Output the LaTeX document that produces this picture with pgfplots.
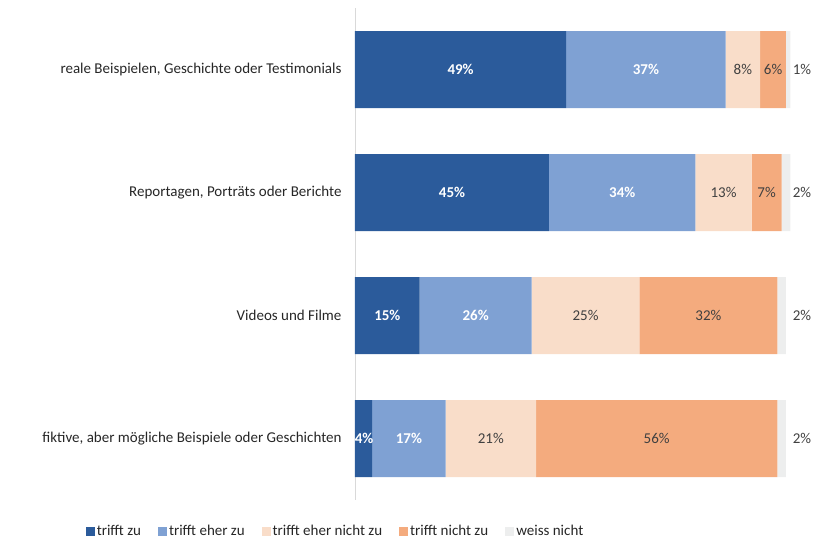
\documentclass[border=0pt]{standalone}
\usepackage{pgfplots}
\pgfplotsset{compat=1.18}
\usepackage{fontspec}
\setmainfont{Carlito}
\definecolor{c1}{HTML}{2B5B9B}
\definecolor{c2}{HTML}{7FA1D3}
\definecolor{c3}{HTML}{F9DDC9}
\definecolor{c4}{HTML}{F4AB7E}
\definecolor{c5}{HTML}{EDEEEE}
\definecolor{txt}{HTML}{404040}
\definecolor{lab}{HTML}{262626}
\newcommand\fs{\fontsize{15}{17}\selectfont}
\tikzset{wl/.style={text=white, font=\fs\bfseries}, dl/.style={text=txt, font=\fs}}
\begin{document}
\begin{tikzpicture}
\begin{axis}[
  clip=false,
  scale only axis, width=431pt, height=492pt,
  xbar stacked, bar width=77pt,
  xmin=0, xmax=100, ymin=-0.5, ymax=3.5, y dir=reverse,
  axis x line=none, axis y line*=left,
  y axis line style={draw=black!15, line width=0.8pt},
  ytick={0,1,2,3}, major tick length=0pt,
  yticklabels={reale Beispielen\hbox{,} Geschichte oder Testimonials, {Reportagen, Porträts oder Berichte}, Videos und Filme, {fiktive, aber mögliche Beispiele oder Geschichten}},
  yticklabel style={font=\fs, text=lab, anchor=east, xshift=-10pt},
  legend columns=5,
  legend style={draw=none, fill=none, at={(axis description cs:-0.632,-0.063)}, anchor=west, font=\fs, text=lab,
    /tikz/every even column/.append style={column sep=15pt}},
  legend image code/.code={\fill[#1] (0pt,-4.5pt) rectangle (9pt,4.5pt);},
  every axis plot/.append style={draw=none},
]
\addplot[fill=c1] coordinates {(49,0) (45,1) (15,2) (4,3)};
\addlegendentry{trifft zu}
\addplot[fill=c2] coordinates {(37,0) (34,1) (26,2) (17,3)};
\addlegendentry{trifft eher zu}
\addplot[fill=c3] coordinates {(8,0) (13,1) (25,2) (21,3)};
\addlegendentry{trifft eher nicht zu}
\addplot[fill=c4] coordinates {(6,0) (7,1) (32,2) (56,3)};
\addlegendentry{trifft nicht zu}
\addplot[fill=c5] coordinates {(1,0) (2,1) (2,2) (2,3)};
\addlegendentry{weiss nicht}
\coordinate (O) at (axis description cs:0,0);
\coordinate (a1) at (axis cs:24.5,0);
\coordinate (a2) at (axis cs:67.5,0);
\coordinate (a3) at (axis cs:90,0);
\coordinate (a4) at (axis cs:97,0);
\coordinate (a5) at (axis cs:103.7,0);
\coordinate (b1) at (axis cs:22.5,1);
\coordinate (b2) at (axis cs:62,1);
\coordinate (b3) at (axis cs:85.5,1);
\coordinate (b4) at (axis cs:95.5,1);
\coordinate (b5) at (axis cs:103.7,1);
\coordinate (c1) at (axis cs:7.5,2);
\coordinate (c2) at (axis cs:28,2);
\coordinate (c3) at (axis cs:53.5,2);
\coordinate (c4) at (axis cs:82,2);
\coordinate (c5) at (axis cs:103.7,2);
\coordinate (d1) at (axis cs:2.1,3);
\coordinate (d2) at (axis cs:12.5,3);
\coordinate (d3) at (axis cs:31.5,3);
\coordinate (d4) at (axis cs:70,3);
\coordinate (d5) at (axis cs:103.7,3);
\end{axis}
\node[wl] at (a1) {49\%};
\node[wl] at (a2) {37\%};
\node[dl] at (a3) {8\%};
\node[dl] at (a4) {6\%};
\node[dl] at (a5) {1\%};
\node[wl] at (b1) {45\%};
\node[wl] at (b2) {34\%};
\node[dl] at (b3) {13\%};
\node[dl] at (b4) {7\%};
\node[dl] at (b5) {2\%};
\node[wl] at (c1) {15\%};
\node[wl] at (c2) {26\%};
\node[dl] at (c3) {25\%};
\node[dl] at (c4) {32\%};
\node[dl] at (c5) {2\%};
\node[wl] at (d1) {4\%};
\node[wl] at (d2) {17\%};
\node[dl] at (d3) {21\%};
\node[dl] at (d4) {56\%};
\node[dl] at (d5) {2\%};
\pgfresetboundingbox
\path (O) ++(-355pt,-39pt) rectangle ++(814pt,539pt);
\end{tikzpicture}
\end{document}
